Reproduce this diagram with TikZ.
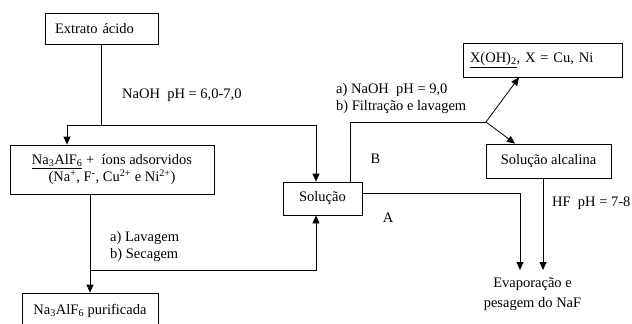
\documentclass[tikz,border=0pt]{standalone}
\usepackage{fontspec}
\setmainfont{Liberation Serif}
\usetikzlibrary{arrows.meta}

\begin{document}
\begin{tikzpicture}[
    x=1pt, y=-1pt,
    font=\fontsize{14.5}{17}\selectfont,
    box/.style={rectangle, draw, line width=0.8pt, inner sep=0pt, align=center},
    line/.style={line width=0.8pt},
    arrow/.style={line width=0.8pt, -{Triangle[length=8pt,width=7pt]}},
    lbl/.style={anchor=west, align=left, inner sep=0pt}
]
    \useasboundingbox (0,0) rectangle (632,324);

    % Boxes
    \node [box, minimum width=113pt, minimum height=31pt, text width=93pt, align=left] (extrato) at (101.5,28.5) {Extrato ácido};
    \node [box, minimum width=204pt, minimum height=49pt] (na3) at (112,169.5) {\underline{Na\textsubscript{3}AlF\textsubscript{6}} + \ íons adsorvidos\\(Na\textsuperscript{+}, F\textsuperscript{-}, Cu\textsuperscript{2+} e Ni\textsuperscript{2+})};
    \node [box, minimum width=136pt, minimum height=35pt] (puri) at (90,310.5) {Na\textsubscript{3}AlF\textsubscript{6} purificada};
    \node [box, minimum width=79pt, minimum height=33pt] (solucao) at (322.5,198.5) {Solução};
    \node [box, minimum width=159pt, minimum height=34pt, text width=145pt, align=left] (xoh) at (542.5,60) {\underline{X(OH)\textsubscript{2}}, X = Cu, Ni};
    \node [box, minimum width=125pt, minimum height=34pt] (alc) at (548.5,161) {Solução alcalina};
    \node [align=center, anchor=north, inner xsep=2pt, inner ysep=8pt, font=\fontsize{14.5}{20}\selectfont] (evap) at (532.5,270) {Evaporação e\\pesagem do NaF};

    % Junctions
    \coordinate (j1) at (101.5,125);
    \coordinate (j2) at (90,270);
    \coordinate (j3) at (486,122);
    \coordinate (j4) at (520,193);

    % Arrows
    \draw [line] (extrato.south) -- (j1);
    \draw [arrow] (j1) -| ([xshift=-45pt]na3.north);
    \draw [arrow] (j1) -| ([xshift=-6.5pt]solucao.north);
    \draw [arrow] (na3.south -| puri.north) -- (puri.north);
    \draw [arrow] (j2) -| ([xshift=-6.5pt]solucao.south);
    \draw [line] ([xshift=27.5pt]solucao.north) |- (j3);
    \draw [arrow] (j3) -- ([xshift=-23.5pt]xoh.south);
    \draw [arrow] (j3) -- ([xshift=-33.5pt]alc.north);
    \draw [line] ([yshift=5.5pt]solucao.east) -- (j4);
    \draw [arrow] (j4) -- (j4 |- evap.north);
    \draw [arrow] ([xshift=-5.5pt]alc.south) -- ([xshift=-5.5pt]alc.south |- evap.north);

    % Labels
    \node [lbl] (naoh1) at (122,95) {NaOH \ pH = 6,0-7,0};
    \node [lbl] (lav) at (110,246.5) {a) Lavagem\\b) Secagem};
    \node [lbl] (naoh2) at (336,99) {a) NaOH \ pH = 9,0\\b) Filtração e lavagem};
    \node [lbl] (hf) at (552,203) {HF \ pH = 7-8};
    \node (labB) at (375.5,159) {B};
    \node (labA) at (388,218) {A};
\end{tikzpicture}
\end{document}
